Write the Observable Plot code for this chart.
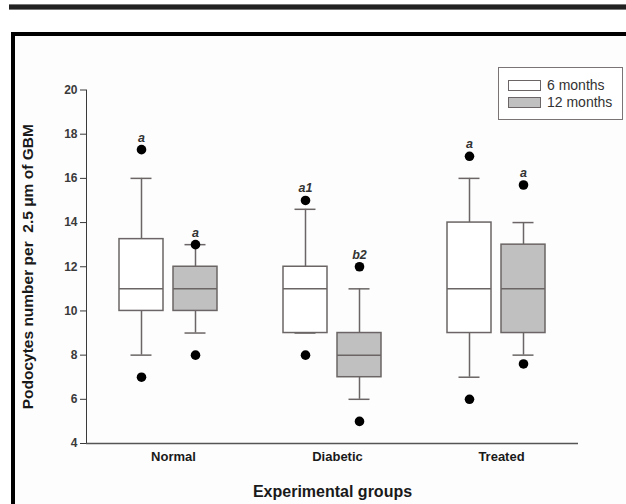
<!DOCTYPE html>
<html>
<head>
<meta charset="utf-8">
<script src="https://cdn.jsdelivr.net/npm/d3@7"></script>
<script src="https://cdn.jsdelivr.net/npm/@observablehq/plot@0.6"></script>
<style>
  html, body { margin: 0; padding: 0; background: #fff; overflow: hidden; }
  #page { position: relative; width: 626px; height: 504px; overflow: hidden; background: #fff;
          font-family: "Liberation Sans", Arial, sans-serif; }
  #topbar { position: absolute; left: 9px; top: 4px; width: 617px; height: 6px; background: #222;
            border-top: 1px solid #777; border-bottom: 1px solid #777; box-sizing: border-box; }
  #inner { position: absolute; left: 15px; top: 36px; width: 611px; height: 468px; background: #fdfdfd; }
  #frameTop { position: absolute; left: 11px; top: 32px; width: 615px; height: 4px; background: #000; }
  #frameLeft { position: absolute; left: 11px; top: 32px; width: 4px; height: 472px; background: #000; }
  #chart { position: absolute; left: 0; top: 0; }
  #chart svg { background: transparent; color: #3a3a3a; }
  g[aria-label="fx-axis tick label"] { font-weight: bold; font-size: 13px; fill: #1a1a1a; }
  g[aria-label="fx-axis label"] { font-weight: bold; font-size: 16px; fill: #1a1a1a; }
  g[aria-label="y-axis label"] { font-weight: bold; font-size: 15.5px; fill: #1a1a1a; }
  g[aria-label="y-axis tick label"] { font-size: 12px; font-weight: bold; fill: #3a3a3a; }
  #legend { position: absolute; left: 498px; top: 67px; width: 125px; height: 53px; box-sizing: border-box;
            border: 1.5px solid #7a7474; background: #fff; }
  .item { position: absolute; left: 9px; height: 16px; font-size: 14px; color: #333; line-height: 16px; }
  .sw { display: inline-block; width: 31px; height: 9px; border: 1.2px solid #6b6565; vertical-align: middle;
        margin-right: 6px; position: relative; top: -1px; }
</style>
</head>
<body>
<div id="page">
  <div id="topbar"></div>
  <div id="inner"></div>
  <div id="frameTop"></div>
  <div id="frameLeft"></div>
  <div id="chart"></div>
  <div id="legend"></div>
</div>
<script>
// ---- data ----
const groups = ["Normal", "Diabetic", "Treated"];
const periods = ["6 months", "12 months"];
const periodColors = ["#ffffff", "#c0c0c0"];
const yTicks = [4, 6, 8, 10, 12, 14, 16, 18, 20];

// order: Normal 6, Normal 12, Diabetic 6, Diabetic 12, Treated 6, Treated 12
const boxGroup  = ["Normal", "Normal", "Diabetic", "Diabetic", "Treated", "Treated"];
const boxPeriod = ["6 months", "12 months", "6 months", "12 months", "6 months", "12 months"];
const whiskerLow  = [8, 9, 9, 6, 7, 8];
const q1          = [10, 10, 9, 7, 9, 9];
const median      = [11, 11, 11, 8, 11, 11];
const q3          = [13.25, 12, 12, 9, 14, 13];
const whiskerHigh = [16, 13, 14.6, 11, 16, 14];

const outGroup  = ["Normal", "Normal", "Normal", "Normal", "Diabetic", "Diabetic", "Diabetic", "Diabetic", "Treated", "Treated", "Treated", "Treated"];
const outPeriod = ["6 months", "6 months", "12 months", "12 months", "6 months", "6 months", "12 months", "12 months", "6 months", "6 months", "12 months", "12 months"];
const outValue  = [17.3, 7, 13, 8, 15, 8, 12, 5, 17, 6, 15.7, 7.6];

const letterGroup  = ["Normal", "Normal", "Diabetic", "Diabetic", "Treated", "Treated"];
const letterPeriod = ["6 months", "12 months", "6 months", "12 months", "6 months", "12 months"];
const letterValue  = [17.3, 13, 15, 12, 17, 15.7];
const letterText   = ["a", "a", "a1", "b2", "a", "a"];

const boxes = boxGroup.map((g, i) => ({group: g, period: boxPeriod[i], lo: whiskerLow[i], q1: q1[i], med: median[i], q3: q3[i], hi: whiskerHigh[i]}));
const outliers = outGroup.map((g, i) => ({group: g, period: outPeriod[i], value: outValue[i]}));
const letters = letterGroup.map((g, i) => ({group: g, period: letterPeriod[i], value: letterValue[i], text: letterText[i]}));

const stroke = "#6b6565";
const sw = 1.5;

const chart = Plot.plot({
  width: 626,
  height: 504,
  marginLeft: 86,
  marginRight: 48,
  marginTop: 89.5,
  marginBottom: 61,
  style: {fontFamily: '"Liberation Sans", Arial, sans-serif', background: "transparent"},
  facet: {marginTop: 0, marginBottom: 0, marginLeft: 0, marginRight: 0},
  fx: {domain: groups, padding: 0},
  x: {domain: periods, paddingInner: 0.19, paddingOuter: 0.6, axis: null},
  y: {domain: [4, 20], ticks: yTicks, tickSize: 6, tickPadding: 3, line: true,
      label: "Podocytes number per  2.5 \u03bcm of GBM", labelAnchor: "center", labelOffset: 65, labelArrow: "none"},
  color: {domain: periods, range: periodColors},
  marks: [
    Plot.axisFx({anchor: "bottom", tickSize: 0, tickPadding: 8, dx: 5, label: null}),
    Plot.axisFx({anchor: "bottom", tickSize: 0, tickFormat: () => "", label: "Experimental groups",
                 labelAnchor: "center", labelOffset: 53, labelArrow: "none"}),
    Plot.ruleY([4], {stroke: "#555", strokeWidth: 1.5}),
    Plot.ruleX(boxes, {fx: "group", x: "period", y1: "q3", y2: "hi", stroke, strokeWidth: sw}),
    Plot.ruleX(boxes, {fx: "group", x: "period", y1: "lo", y2: "q1", stroke, strokeWidth: sw}),
    Plot.barY(boxes, {fx: "group", x: "period", y1: "q1", y2: "q3", fill: "period", stroke, strokeWidth: sw}),
    Plot.tickY(boxes, {fx: "group", x: "period", y: "med", stroke, strokeWidth: sw}),
    Plot.tickY(boxes, {fx: "group", x: "period", y: "hi", stroke, strokeWidth: sw, insetLeft: 11.5, insetRight: 11.5}),
    Plot.tickY(boxes, {fx: "group", x: "period", y: "lo", stroke, strokeWidth: sw, insetLeft: 11.5, insetRight: 11.5}),
    Plot.dot(outliers, {fx: "group", x: "period", y: "value", r: 4.8, fill: "#000", stroke: "none"}),
    Plot.text(letters, {fx: "group", x: "period", y: "value", text: "text", dy: -12, fontStyle: "italic",
                        fontWeight: 600, fontSize: 12.5, fill: "#333"})
  ]
});
document.getElementById("chart").appendChild(chart);

// legend
const legend = document.getElementById("legend");
periods.forEach((p, i) => {
  const item = document.createElement("div");
  item.className = "item";
  item.style.top = (i === 0 ? 9 : 26) + "px";
  const s = document.createElement("span");
  s.className = "sw";
  s.style.background = periodColors[i];
  item.appendChild(s);
  item.appendChild(document.createTextNode(p));
  legend.appendChild(item);
});
</script>
</body>
</html>
